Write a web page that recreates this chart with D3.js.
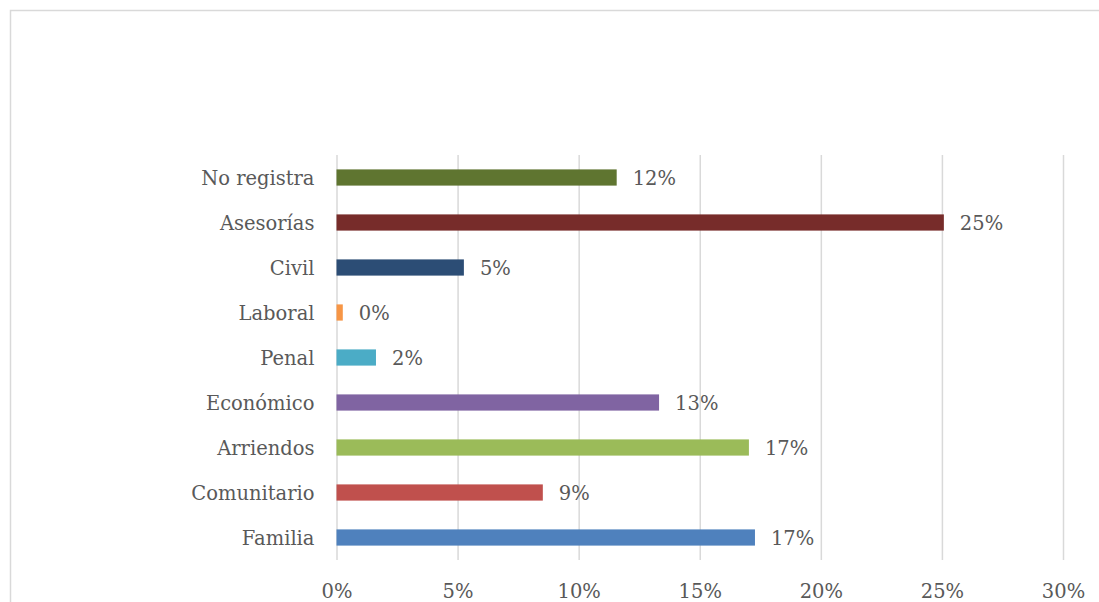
<!DOCTYPE html>
<html>
<head>
<meta charset="utf-8">
<script src="https://cdn.jsdelivr.net/npm/d3@7"></script>
<style>
  html, body { margin: 0; padding: 0; background: #ffffff; }
  svg { display: block; }
  text { font-family: "DejaVu Serif", "Liberation Serif", serif; fill: #595959; }
</style>
</head>
<body>
<svg id="chart" width="1099" height="602"></svg>
<script>
// Categories, top to bottom
const categories = ["No registra", "Asesorías", "Civil", "Laboral", "Penal",
                    "Económico", "Arriendos", "Comunitario", "Familia"];
// Share of cases per category (fraction of total)
const shares = [0.1157, 0.2508, 0.0526, 0.0026, 0.0163,
                0.1332, 0.1703, 0.0852, 0.1728];
// Bar fill per category
const barColors = ["#5F7530", "#772C2A", "#2C4D75", "#F79646", "#4BACC6",
                   "#8064A2", "#9BBB59", "#C0504D", "#4F81BD"];
// Horizontal axis ticks
const xTicks = [0, 0.05, 0.10, 0.15, 0.20, 0.25, 0.30];

const data = categories.map((c, i) => ({ cat: c, value: shares[i], color: barColors[i] }));

const svg = d3.select("#chart");

// Outer frame of the chart area
svg.append("rect")
  .attr("x", 10.5).attr("y", 10.5)
  .attr("width", 1200).attr("height", 700)
  .attr("fill", "none")
  .attr("stroke", "#d9d9d9")
  .attr("stroke-width", 1.5);

const plot = { left: 336.5, right: 1063, top: 155, bottom: 560 };

const x = d3.scaleLinear().domain([0, 0.30]).range([plot.left, plot.right]);
const y = d3.scaleBand().domain(categories)
  .range([plot.top, plot.bottom])
  .paddingInner(0.64).paddingOuter(0.32);

// Vertical gridlines and percentage tick labels
const xAxis = d3.axisBottom(x)
  .tickValues(xTicks)
  .tickFormat(d3.format(".0%"))
  .tickSizeInner(-(plot.bottom - plot.top))
  .tickSizeOuter(0);

const gx = svg.append("g")
  .attr("transform", `translate(0,${plot.bottom})`)
  .call(xAxis);
gx.select(".domain").remove();
gx.selectAll(".tick line").attr("stroke", "#d9d9d9").attr("stroke-width", 1.5);
gx.selectAll(".tick text")
  .attr("y", 37.5).attr("dy", 0)
  .attr("font-size", 19.5)
  .attr("font-family", null)
  .attr("fill", "#595959");

// Category labels
const yAxis = d3.axisLeft(y).tickSize(0).tickPadding(22);
const gy = svg.append("g")
  .attr("transform", `translate(${plot.left},0)`)
  .call(yAxis);
gy.select(".domain").remove();
gy.selectAll(".tick text")
  .attr("font-size", 19.5)
  .attr("font-family", null)
  .attr("fill", "#595959")
  .attr("dy", "0.36em");

// Bars
svg.append("g").selectAll("rect")
  .data(data)
  .join("rect")
  .attr("x", x(0))
  .attr("y", d => y(d.cat))
  .attr("width", d => x(d.value) - x(0))
  .attr("height", y.bandwidth())
  .attr("fill", d => d.color);

// Value labels
svg.append("g").selectAll("text")
  .data(data)
  .join("text")
  .attr("x", d => x(d.value) + 16)
  .attr("y", d => y(d.cat) + y.bandwidth() / 2)
  .attr("dy", "0.36em")
  .attr("font-size", 19.5)
  .attr("fill", "#404040")
  .text(d => d3.format(".0%")(d.value));
</script>
</body>
</html>
